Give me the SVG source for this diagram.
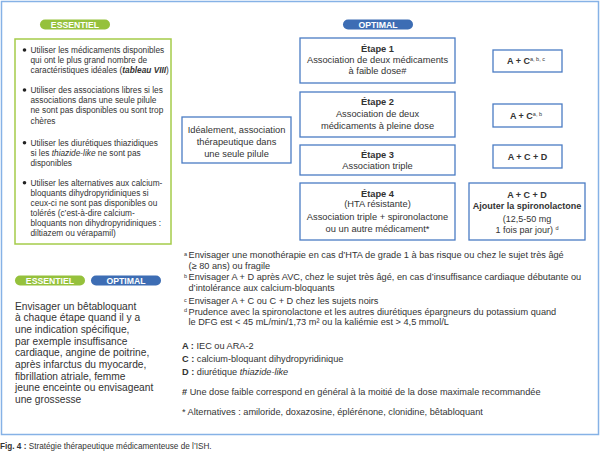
<svg xmlns="http://www.w3.org/2000/svg" width="600" height="456" viewBox="0 0 600 456">
<style>
text{font-family:"Liberation Sans",Arial,sans-serif;fill:#333;}
.pill{font-weight:bold;fill:#fff;font-size:8.7px;text-anchor:middle;}
.g{font-size:8.3px;}
.s{font-size:9.3px;text-anchor:middle;}
.b{font-weight:bold;}
.r{font-size:9px;text-anchor:middle;font-weight:bold;}
.rn{font-size:9px;text-anchor:middle;}
.f{font-size:9.2px;}
.l{font-size:10.2px;}
.box{fill:#fff;stroke:#4a7cc4;stroke-width:1.3;}
.sup{font-size:5.5px;font-weight:normal;}
</style>
<rect x="1.5" y="1.5" width="597" height="433" fill="#fff" stroke="#86b2e6" stroke-width="1.5"/>

<g id="essentiel-header">
<rect x="40" y="19.5" width="70" height="10" rx="5" fill="#95c13c"/>
<text class="pill" x="75" y="27.8">ESSENTIEL</text>
</g>
<g id="optimal-header">
<rect x="343" y="19.5" width="70" height="10" rx="5" fill="#3d6db4"/>
<text class="pill" x="378" y="27.8">OPTIMAL</text>
</g>

<g id="essentiel-box">
<rect x="15" y="39" width="156" height="205" fill="#fff" stroke="#a5cc4a" stroke-width="1.5"/>
<g fill="#222"><circle cx="24.5" cy="50" r="1.8"/><circle cx="24.5" cy="90" r="1.8"/><circle cx="24.5" cy="142.7" r="1.8"/><circle cx="24.5" cy="182.7" r="1.8"/></g>
<text class="g" x="30.5" y="52.8">Utiliser les médicaments disponibles</text>
<text class="g" x="30.5" y="62.8">qui ont le plus grand nombre de</text>
<text class="g" x="30.5" y="72.8">caractéristiques idéales (<tspan font-weight="bold" font-style="italic">tableau VIII</tspan>)</text>
<text class="g" x="30.5" y="92.8">Utiliser des associations libres si les</text>
<text class="g" x="30.5" y="102.8">associations dans une seule pilule</text>
<text class="g" x="30.5" y="112.8">ne sont pas disponibles ou sont trop</text>
<text class="g" x="30.5" y="123.5">chères</text>
<text class="g" x="30.5" y="145.5">Utiliser les diurétiques thiazidiques</text>
<text class="g" x="30.5" y="155.5">si les <tspan font-style="italic">thiazide-like</tspan> ne sont pas</text>
<text class="g" x="30.5" y="165.5">disponibles</text>
<text class="g" x="30.5" y="185.5">Utiliser les alternatives aux calcium-</text>
<text class="g" x="30.5" y="195.5">bloquants dihydropyridiniques si</text>
<text class="g" x="30.5" y="205.5">ceux-ci ne sont pas disponibles ou</text>
<text class="g" x="30.5" y="215.5">tolérés (c’est-à-dire calcium-</text>
<text class="g" x="30.5" y="225.5">bloquants non dihydropyridiniques :</text>
<text class="g" x="30.5" y="235.5">diltiazem ou vérapamil)</text>
</g>

<g id="ideal-box">
<rect class="box" x="182" y="117" width="109" height="46"/>
<text class="s" x="236.5" y="132.5">Idéalement, association</text>
<text class="s" x="236.5" y="144.5">thérapeutique dans</text>
<text class="s" x="236.5" y="156.5">une seule pilule</text>
</g>

<g id="step1">
<rect class="box" x="300" y="38" width="155" height="45"/>
<text class="s b" x="377.5" y="51.5">Étape 1</text>
<text class="s" x="377.5" y="63.3">Association de deux médicaments</text>
<text class="s" x="377.5" y="74">à faible dose#</text>
</g>
<g id="step2">
<rect class="box" x="300" y="92" width="155" height="45"/>
<text class="s b" x="377.5" y="105">Étape 2</text>
<text class="s" x="377.5" y="117.3">Association de deux</text>
<text class="s" x="377.5" y="129">médicaments à pleine dose</text>
</g>
<g id="step3">
<rect class="box" x="300" y="145" width="155" height="30"/>
<text class="s b" x="377.5" y="158.3">Étape 3</text>
<text class="s" x="377.5" y="169.3">Association triple</text>
</g>
<g id="step4">
<rect class="box" x="300" y="183" width="155" height="57"/>
<text class="s b" x="377.5" y="196.6">Étape 4</text>
<text class="s" x="377.5" y="207.3">(HTA résistante)</text>
<text class="s" x="377.5" y="220">Association triple + spironolactone</text>
<text class="s" x="377.5" y="231.6">ou un autre médicament*</text>
</g>

<g id="rx1">
<rect class="box" x="493" y="50" width="69" height="22"/>
<text class="r" x="526" y="64.3">A + C<tspan class="sup" dy="-3">a, b, c</tspan></text>
</g>
<g id="rx2">
<rect class="box" x="493" y="104" width="69" height="23"/>
<text class="r" x="526" y="118.8">A + C<tspan class="sup" dy="-3">a, b</tspan></text>
</g>
<g id="rx3">
<rect class="box" x="493" y="145" width="69" height="23"/>
<text class="r" x="527.5" y="159.8">A + C + D</text>
</g>
<g id="rx4">
<rect class="box" x="469" y="183" width="116" height="57"/>
<text class="r" x="527" y="197.5">A + C + D</text>
<text class="r" x="527" y="209.2">Ajouter la spironolactone</text>
<text class="rn" x="527" y="221.5">(12,5-50 mg</text>
<text class="rn" x="527" y="233.2">1 fois par jour) <tspan class="sup" dy="-3">d</tspan></text>
</g>

<g id="connectors"></g>

<g id="notes">
<text class="f" x="184" y="258"><tspan class="sup" dy="-2.5">a</tspan><tspan x="188.5" dy="2.5">Envisager une monothérapie en cas d’HTA de grade 1 à bas risque ou chez le sujet très âgé</tspan></text>
<text class="f" x="188.5" y="268.8">(≥ 80 ans) ou fragile</text>
<text class="f" x="184" y="280.3"><tspan class="sup" dy="-2.5">b</tspan><tspan x="188.5" dy="2.5">Envisager A + D après AVC, chez le sujet très âgé, en cas d’insuffisance cardiaque débutante ou</tspan></text>
<text class="f" x="188.5" y="291.3">d’intolérance aux calcium-bloquants</text>
<text class="f" x="184" y="304"><tspan class="sup" dy="-2.5">c</tspan><tspan x="188.5" dy="2.5">Envisager A + C ou C + D chez les sujets noirs</tspan></text>
<text class="f" x="184" y="314.7"><tspan class="sup" dy="-2.5">d</tspan><tspan x="188.5" dy="2.5">Prudence avec la spironolactone et les autres diurétiques épargneurs du potassium quand</tspan></text>
<text class="f" x="188.5" y="325.3">le DFG est &lt; 45 mL/min/1,73 m² ou la kaliémie est &gt; 4,5 mmol/L</text>
<text class="f" x="182" y="348.7"><tspan font-weight="bold">A :</tspan> IEC ou ARA-2</text>
<text class="f" x="182" y="362"><tspan font-weight="bold">C :</tspan> calcium-bloquant dihydropyridinique</text>
<text class="f" x="182" y="374.7"><tspan font-weight="bold">D :</tspan> diurétique <tspan font-style="italic">thiazide-like</tspan></text>
<text class="f" x="182" y="394.7"><tspan font-weight="bold">#</tspan> Une dose faible correspond en général à la moitié de la dose maximale recommandée</text>
<text class="f" x="182" y="414.7">* Alternatives : amiloride, doxazosine, éplérénone, clonidine, bêtabloquant</text>
</g>

<g id="betablocker">
<rect x="15" y="275.5" width="70" height="10" rx="5" fill="#95c13c"/>
<text class="pill" x="50" y="283.8">ESSENTIEL</text>
<rect x="91" y="275.5" width="70" height="10" rx="5" fill="#3d6db4"/>
<text class="pill" x="126" y="283.8">OPTIMAL</text>
<text class="l" x="15" y="309.5">Envisager un bêtabloquant</text>
<text class="l" x="15" y="321.2">à chaque étape quand il y a</text>
<text class="l" x="15" y="332.9">une indication spécifique,</text>
<text class="l" x="15" y="344.6">par exemple insuffisance</text>
<text class="l" x="15" y="356.3">cardiaque, angine de poitrine,</text>
<text class="l" x="15" y="368">après infarctus du myocarde,</text>
<text class="l" x="15" y="379.7">fibrillation atriale, femme</text>
<text class="l" x="15" y="391.4">jeune enceinte ou envisageant</text>
<text class="l" x="15" y="403.1">une grossesse</text>
</g>

<text x="0" y="448.5" font-size="8.2px"><tspan font-weight="bold">Fig. 4 :</tspan> Stratégie thérapeutique médicamenteuse de l’ISH.</text>
</svg>
